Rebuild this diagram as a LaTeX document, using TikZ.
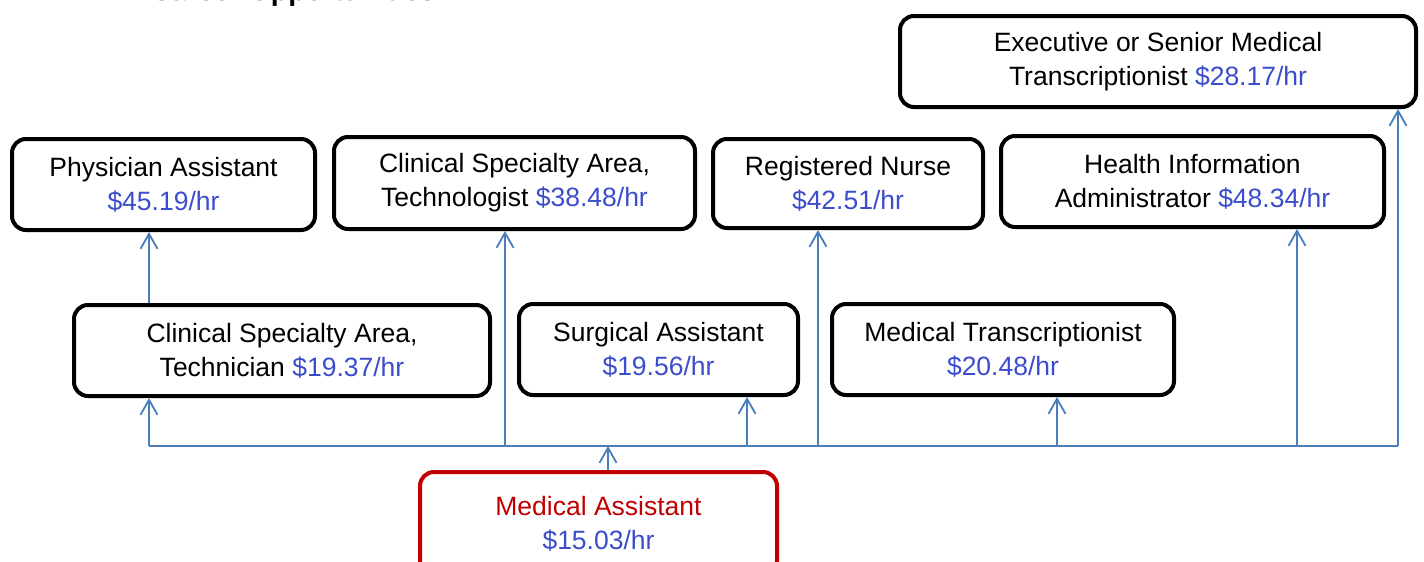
\documentclass[tikz,border=0pt]{standalone}
\usepackage{fontspec}
\setmainfont{Liberation Sans}
\usepackage{tikz}
\usetikzlibrary{arrows.meta, positioning, calc}

\definecolor{payblue}{RGB}{59,76,204}
\definecolor{startred}{RGB}{192,0,0}
\definecolor{linkblue}{RGB}{74,126,187}
\newcommand{\pay}[1]{\textcolor{payblue}{#1}}

\begin{document}
\begin{tikzpicture}[x=1pt, y=-1pt,
    job/.style={draw, line width=4pt, rounded corners=14pt, align=center,
        inner sep=0pt, font=\fontsize{26.5}{34}\selectfont},
    conn/.style={draw=linkblue, line width=1.8pt},
    >={Straight Barb[length=15pt, width=17pt]}]
    \clip (0,0) rectangle (1424,562);

    \node[anchor=base west, font=\bfseries\fontsize{28.5}{34}\selectfont] (title) at (147,0.5) {Career Opportunities};

    % top row
    \node[job, minimum width=516pt, minimum height=91pt] (exec) at (1158,61.5) {Executive or Senior Medical\\Transcriptionist \pay{\$28.17/hr}};
    \node[job, minimum width=303pt, minimum height=91pt] (phys) at (163.5,184.5) {Physician Assistant\\\pay{\$45.19/hr}};
    \node[job, minimum width=361pt, minimum height=92pt] (tgist) at (514.5,183) {Clinical Specialty Area,\\Technologist \pay{\$38.48/hr}};
    \node[job, minimum width=270pt, minimum height=89pt] (rn) at (848,183.5) {Registered Nurse\\\pay{\$42.51/hr}};
    \node[job, minimum width=383pt, minimum height=91pt] (hia) at (1192.5,181.5) {Health Information\\Administrator \pay{\$48.34/hr}};

    % middle row
    \node[job, minimum width=416pt, minimum height=91pt] (tech) at (282,350.5) {Clinical Specialty Area,\\Technician \pay{\$19.37/hr}};
    \node[job, minimum width=279pt, minimum height=91pt] (surg) at (658.5,349.5) {Surgical Assistant\\\pay{\$19.56/hr}};
    \node[job, minimum width=342pt, minimum height=91pt] (mtr) at (1003,349.5) {Medical Transcriptionist\\\pay{\$20.48/hr}};

    % start
    \node[job, draw=startred, minimum width=357pt, minimum height=103pt] (ma) at (598.5,523.5) {\textcolor{startred}{Medical Assistant}\\\pay{\$15.03/hr}};

    % bus
    \coordinate (busL) at (149,446);
    \coordinate (busR) at (1398,446);
    \coordinate (bTgist) at (505,446);
    \coordinate (bMA) at (608,446);
    \coordinate (bSurg) at (747,446);
    \coordinate (bRN) at (818,446);
    \coordinate (bMtr) at (1057,446);
    \coordinate (bHia) at (1297,446);
    \draw[conn] (busL) -- (busR);

    \draw[conn, ->] (bMA |- ma.north) -- (bMA);
    \draw[conn, ->] (busL) -- (busL |- tech.south);
    \draw[conn, ->] (busL |- tech.north) -- (busL |- phys.south);
    \draw[conn, ->] (bTgist) -- (bTgist |- tgist.south);
    \draw[conn, ->] (bSurg) -- (bSurg |- surg.south);
    \draw[conn, ->] (bRN) -- (bRN |- rn.south);
    \draw[conn, ->] (bMtr) -- (bMtr |- mtr.south);
    \draw[conn, ->] (bHia) -- (bHia |- hia.south);
    \draw[conn, ->] (busR) -- (busR |- exec.south);

\end{tikzpicture}
\end{document}
